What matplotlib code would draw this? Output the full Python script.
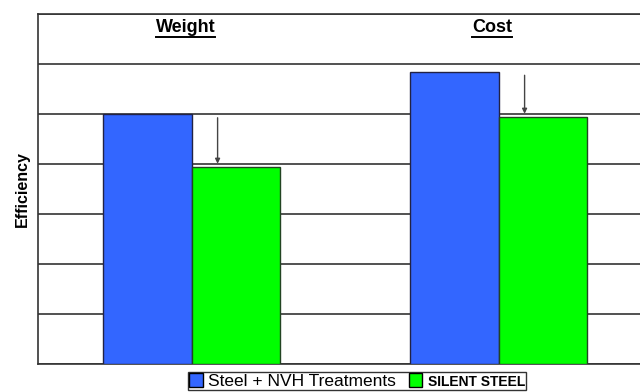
import matplotlib.pyplot as plt
from matplotlib.patches import Patch
from matplotlib.lines import Line2D

plt.rcParams['font.family'] = ['Liberation Sans', 'DejaVu Sans']

# datos
categorias = ['Weight', 'Cost']
steel_nvh = [5.0, 5.85]
silent_steel = [3.95, 4.95]
series = ['Steel + NVH Treatments', 'SILENT STEEL']
azul = '#3366FF'
verde = '#00FF00'

fig = plt.figure(figsize=(6.4, 3.92), dpi=100)
ax = fig.add_axes([38/640, 28/392, 614/640, 350/392])

x = list(range(len(categorias)))
w = 0.287
ax.bar([i - w/2 for i in x], steel_nvh, width=w, color=azul, edgecolor='#222244', linewidth=1, zorder=3)
ax.bar([i + w/2 for i in x], silent_steel, width=w, color=verde, edgecolor='#224422', linewidth=1, zorder=3)

# flechas de reduccion
for i in x:
    ax.annotate('', xy=(i + 0.085, silent_steel[i]), xytext=(i + 0.085, steel_nvh[i] - 0.02),
                arrowprops=dict(arrowstyle='-|>', color='#444444', lw=1, mutation_scale=7), zorder=4)

ax.set_xlim(-0.5, 1.5)
ax.set_ylim(0, 7)
ax.set_yticks(range(8))
ax.yaxis.grid(True, color='#333333', linewidth=1.2, zorder=0)
ax.tick_params(left=False, bottom=False, labelleft=False, labelbottom=False)
for s in ['left', 'top', 'bottom']:
    ax.spines[s].set_color('#333333')
    ax.spines[s].set_linewidth(1.2)
ax.set_ylabel('Efficiency', fontsize=11.5, fontweight='bold', labelpad=6)

# titulos subrayados
fig.canvas.draw()
r = fig.canvas.get_renderer()
for i, c in enumerate(categorias):
    t = ax.text(i - 0.02, 6.72, c, ha='center', va='center', fontsize=13, fontweight='bold')
    bb = t.get_window_extent(r).transformed(ax.transData.inverted())
    ax.add_line(Line2D([bb.x0, bb.x1], [bb.y0 - 0.01, bb.y0 - 0.01], color='black', lw=1.4))

handles = [Patch(facecolor=azul, edgecolor='black'), Patch(facecolor=verde, edgecolor='black')]
leg = fig.legend(handles, series, loc='upper left', bbox_to_anchor=(188/640, 1 - 372/392),
                 ncol=2, frameon=True, fancybox=False, edgecolor='black', fontsize=12.5,
                 handlelength=0.8, handleheight=0.8, handletextpad=0.3, columnspacing=0.7,
                 borderpad=0.08, borderaxespad=0)
leg.get_texts()[1].set_fontweight('bold')
leg.get_texts()[1].set_fontsize(10)

fig.savefig('out.png', dpi=100)
